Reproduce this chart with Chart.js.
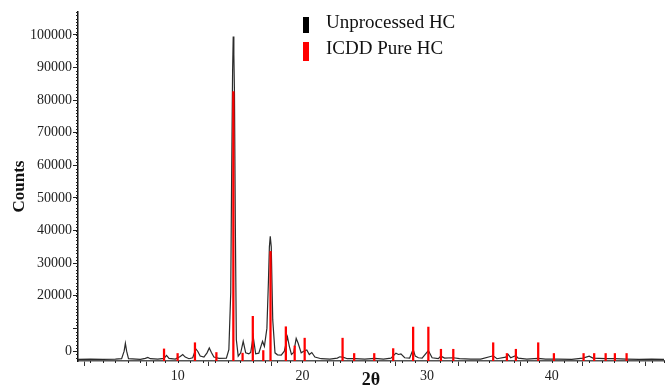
<!DOCTYPE html>
<html>
<head>
<meta charset="utf-8">
<script src="https://cdn.jsdelivr.net/npm/chart.js@4.4.1/dist/chart.umd.min.js"></script>
<style>
    body { margin: 0; background: #fff; }
    #chart-container { position: relative; width: 665px; height: 392px; }
    #legend { position: absolute; left: 303px; top: 13px; font-family: "Liberation Serif", serif; font-size: 19px; line-height: 18px; color: #111; }
    #legend .row { position: relative; height: 26px; }
    #legend .swatch { position: absolute; left: 0; width: 6px; }
    #legend .text { position: absolute; left: 23px; top: 0; white-space: nowrap; }
</style>
</head>
<body>
<div id="chart-container">
    <canvas id="myLineChart" width="665" height="392"></canvas>
    <div id="legend"></div>
</div>
<script>
// Unprocessed HC scan (2theta, counts)
var scanAngle = [2.0, 3.0, 4.0, 5.0, 5.5, 5.7, 5.8, 5.9, 6.05, 7.0, 7.4, 7.6, 7.8, 8.4, 8.9, 9.1, 9.3, 9.8,
    10.2, 10.4, 10.6, 10.9, 11.2, 11.45, 11.6, 11.8, 12.1, 12.35, 12.53, 12.7, 12.9, 13.3, 13.9,
    14.1, 14.25, 14.33, 14.4, 14.45, 14.5, 14.55, 14.62, 14.7, 14.85, 15.05, 15.25, 15.45, 15.7, 15.85,
    16.05, 16.25, 16.5, 16.8, 16.95, 17.15, 17.27, 17.35, 17.42, 17.5, 17.62, 17.8, 18.0, 18.3, 18.55,
    18.8, 18.95, 19.12, 19.3, 19.5, 19.65, 19.9, 20.1, 20.35, 20.55, 20.75, 21.0, 21.5, 22.2, 22.8,
    23.0, 23.3, 23.6, 24.2, 25.0, 25.8, 26.5, 27.1, 27.5, 27.7, 27.9, 28.2, 28.6, 28.88, 29.05, 29.3,
    29.6, 30.1, 30.4, 30.9, 31.1, 31.4, 32.1, 32.6, 33.5, 34.3, 35.3, 35.6, 36.3, 36.5, 36.7, 37.1,
    37.3, 38.0, 38.9, 39.5, 40.5, 41.6, 42.5, 43.0, 43.3, 44.3, 45.0, 46.0, 47.0, 48.0, 49.0];
var scanCounts = [500, 600, 500, 600, 700, 3000, 5400, 3000, 700, 500, 800, 1100, 700, 600, 800, 1700, 800, 600,
    1400, 2000, 1200, 700, 1000, 3700, 3000, 1500, 1200, 2500, 4000, 2600, 1200, 800, 900,
    3500, 21000, 60000, 89000, 99500, 94000, 82000, 41000, 6500, 1500, 2500, 6000, 2500, 2200, 2600,
    7500, 2200, 2400, 6000, 4500, 10000, 24000, 35000, 38200, 35000, 12600, 2500, 1900, 1800, 3000,
    7400, 4500, 2000, 2600, 6900, 5500, 2500, 3000, 3400, 2000, 2600, 1200, 700, 600, 900,
    1300, 1100, 700, 700, 600, 800, 600, 900, 2400, 2000, 2200, 1000, 900, 3600, 1500, 1000,
    900, 3200, 1000, 700, 1500, 900, 1000, 700, 600, 600, 1600, 700, 1200, 2000, 1000, 1600,
    900, 600, 800, 600, 600, 500, 900, 1500, 900, 700, 700, 600, 500, 600, 500];

// ICDD reference lines (2theta, counts)
var refAngle = [8.9, 9.99, 11.38, 13.1, 14.46, 15.2, 16.02, 16.86, 17.44, 18.67, 19.38, 20.18, 23.22, 24.15,
    25.76, 27.28, 28.88, 30.1, 31.11, 32.1, 35.3, 36.4, 37.12, 38.91, 40.17, 42.55, 43.4, 44.32, 45.06, 46.0];
var refCounts = [3700, 2300, 5600, 2600, 82600, 2400, 13700, 3200, 33600, 10500, 4600, 7000, 7000, 2300,
    2300, 3800, 10400, 10400, 3600, 3600, 5600, 2300, 3600, 5600, 2300, 2300, 2300, 2300, 2300, 2300];

var seriesNames = ['Unprocessed HC', 'ICDD Pure HC'];
var seriesColors = ['#2b2b2b', '#ff0000'];
var swatchColors = ['#000000', '#ff0000'];

var xTickValues = [5, 10, 15, 20, 25, 30, 35, 40, 45];
var xTickLabels = ['', '10', '', '20', '', '30', '', '40', ''];
var yTickValues = [3000, 10000, 20000, 30000, 40000, 50000, 60000, 70000, 80000, 90000, 100000];
var yTickLabels = ['0', '', '20000', '30000', '40000', '50000', '60000', '70000', '80000', '90000', '100000'];

var scanData = [], refData = [];
for (var i = 0; i < scanAngle.length; i++) {
    scanData.push({ x: scanAngle[i], y: scanCounts[i] });
}
for (var j = 0; j < refAngle.length; j++) {
    refData.push({ x: refAngle[j], y: refCounts[j] });
}

// small minor tick marks along both axes
var minorTicks = {
    id: 'minorTicks',
    afterDatasetsDraw: function (chart) {
        var c = chart.ctx, xs = chart.scales.x, ys = chart.scales.y;
        c.save();
        c.strokeStyle = '#222';
        c.lineWidth = 1;
        c.beginPath();
        for (var v = 1000; v <= 107000; v += 1000) {
            var py = Math.round(ys.getPixelForValue(v)) + 0.5;
            c.moveTo(xs.left - 2, py);
            c.lineTo(xs.left, py);
        }
        for (var a = 3; a <= 49; a += 1) {
            var px = Math.round(xs.getPixelForValue(a)) + 0.5;
            c.moveTo(px, ys.bottom);
            c.lineTo(px, ys.bottom + 2);
        }
        c.stroke();
        c.restore();
    }
};

var config = {
    type: 'line',
    data: {
        datasets: [{
            label: seriesNames[0],
            data: scanData,
            borderColor: seriesColors[0],
            borderWidth: 1.2,
            pointRadius: 0,
            fill: false,
            order: 1
        }, {
            type: 'bar',
            label: seriesNames[1],
            data: refData,
            backgroundColor: seriesColors[1],
            barThickness: 1.6,
            grouped: false,
            order: 0
        }]
    },
    options: {
        responsive: false,
        animation: false,
        layout: { padding: { top: 12, right: 1 } },
        elements: { line: { tension: 0 } },
        plugins: {
            legend: { display: false },
            tooltip: { enabled: false }
        },
        scales: {
            x: {
                type: 'linear',
                min: 2,
                max: 49,
                offset: false,
                afterFit: function (scale) { scale.height = 31; },
                afterBuildTicks: function (scale) {
                    scale.ticks = xTickValues.map(function (v) { return { value: v }; });
                },
                ticks: {
                    autoSkip: false,
                    maxRotation: 0,
                    padding: 2,
                    color: '#222',
                    font: { family: 'Liberation Serif', size: 14 },
                    callback: function (value) {
                        return xTickLabels[xTickValues.indexOf(value)];
                    }
                },
                grid: { drawOnChartArea: false, drawTicks: true, tickLength: 5, color: '#333' },
                border: { display: true, color: '#555', width: 1.5 },
                title: {
                    display: true,
                    text: '2θ',
                    color: '#111',
                    padding: { top: 0, bottom: 1 },
                    font: { family: 'Liberation Serif', size: 18, weight: 'bold' }
                }
            },
            y: {
                min: 0,
                max: 107000,
                afterFit: function (scale) { scale.width = 78; },
                afterBuildTicks: function (scale) {
                    scale.ticks = yTickValues.map(function (v) { return { value: v }; });
                },
                ticks: {
                    autoSkip: false,
                    padding: 1,
                    color: '#222',
                    font: { family: 'Liberation Serif', size: 14 },
                    callback: function (value) {
                        return yTickLabels[yTickValues.indexOf(value)];
                    }
                },
                grid: { drawOnChartArea: false, drawTicks: true, tickLength: 5, color: '#222' },
                border: { display: true, color: '#111', width: 1.5 },
                title: {
                    display: true,
                    text: 'Counts',
                    color: '#111',
                    padding: { top: 9, bottom: 0 },
                    font: { family: 'Liberation Serif', size: 17, weight: 'bold' }
                }
            }
        }
    },
    plugins: [minorTicks]
};

// legend box
var legend = document.getElementById('legend');
var swatchTop = [4, 29], swatchHeight = [16, 19];
for (var k = 0; k < seriesNames.length; k++) {
    var row = document.createElement('div');
    row.className = 'row';
    var sw = document.createElement('span');
    sw.className = 'swatch';
    sw.style.background = swatchColors[k];
    sw.style.top = (swatchTop[k] - 26 * k) + 'px';
    sw.style.height = swatchHeight[k] + 'px';
    var tx = document.createElement('span');
    tx.className = 'text';
    tx.textContent = seriesNames[k];
    row.appendChild(sw);
    row.appendChild(tx);
    legend.appendChild(row);
}

var ctx = document.getElementById('myLineChart').getContext('2d');
var myLineChart = new Chart(ctx, config);
</script>
</body>
</html>
